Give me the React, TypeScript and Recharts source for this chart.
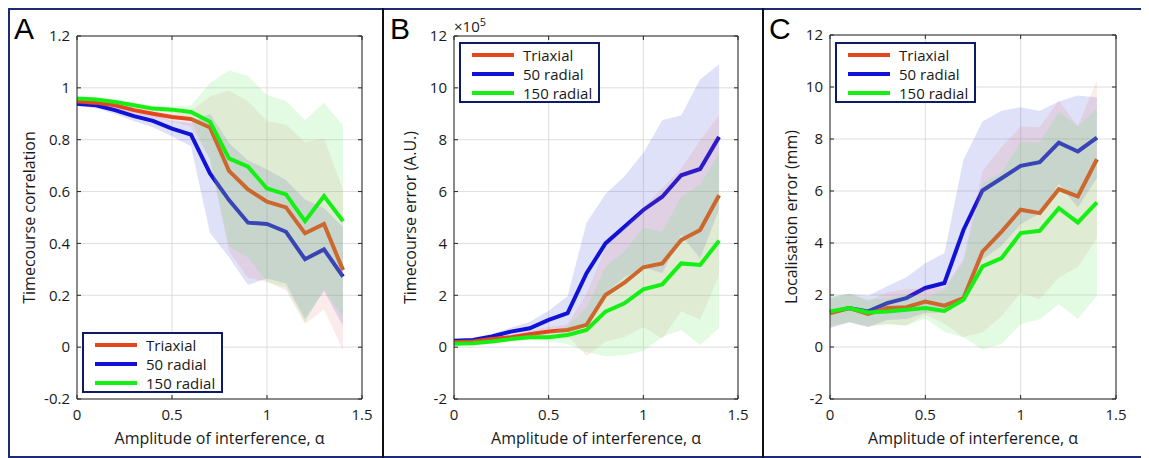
import React from "react";
import {
  ComposedChart,
  Area,
  XAxis,
  YAxis,
  CartesianGrid,
  ReferenceLine,
  Label,
} from "recharts";

// amplitude of interference (x)
const alpha = [0, 0.1, 0.2, 0.3, 0.4, 0.5, 0.6, 0.7, 0.8, 0.9, 1.0, 1.1, 1.2, 1.3, 1.4];

// A - timecourse correlation (mean / std)
const corrTri = [0.948, 0.943, 0.933, 0.914, 0.9, 0.888, 0.88, 0.847, 0.68, 0.608, 0.561, 0.539, 0.439, 0.475, 0.297];
const corrTriSd = [0.01, 0.01, 0.012, 0.015, 0.015, 0.018, 0.03, 0.12, 0.31, 0.34, 0.31, 0.32, 0.35, 0.33, 0.31];
const corr50 = [0.939, 0.933, 0.914, 0.891, 0.873, 0.843, 0.82, 0.67, 0.567, 0.48, 0.475, 0.445, 0.339, 0.377, 0.272];
const corr50Sd = [0.01, 0.012, 0.015, 0.02, 0.025, 0.03, 0.045, 0.23, 0.22, 0.24, 0.21, 0.2, 0.23, 0.16, 0.19];
const corr150 = [0.959, 0.955, 0.946, 0.933, 0.92, 0.916, 0.907, 0.869, 0.728, 0.696, 0.612, 0.589, 0.486, 0.583, 0.486];
const corr150Sd = [0.008, 0.008, 0.01, 0.01, 0.01, 0.012, 0.025, 0.15, 0.34, 0.35, 0.36, 0.36, 0.39, 0.36, 0.37];

// B - timecourse error, x10^5
const errTri = [0.19, 0.22, 0.31, 0.38, 0.5, 0.6, 0.66, 0.86, 2.01, 2.49, 3.08, 3.23, 4.13, 4.52, 5.86];
const errTriSd = [0.03, 0.04, 0.06, 0.08, 0.12, 0.18, 0.22, 1.2, 1.8, 2.1, 2.3, 2.9, 2.75, 3.45, 3.08];
const err50 = [0.25, 0.28, 0.41, 0.6, 0.73, 1.05, 1.31, 2.85, 4.0, 4.64, 5.29, 5.8, 6.63, 6.87, 8.11];
const err50Sd = [0.05, 0.07, 0.1, 0.15, 0.25, 0.35, 0.65, 1.95, 1.9, 1.95, 2.2, 2.95, 2.3, 3.45, 2.8];
const err150 = [0.13, 0.15, 0.22, 0.31, 0.38, 0.38, 0.47, 0.66, 1.37, 1.69, 2.23, 2.42, 3.23, 3.17, 4.1];
const err150Sd = [0.03, 0.04, 0.05, 0.07, 0.1, 0.15, 0.35, 0.85, 1.72, 2.0, 2.38, 2.03, 2.57, 3.09, 3.36];

// C - localisation error (mm)
const locTri = [1.3, 1.5, 1.27, 1.5, 1.53, 1.75, 1.59, 1.88, 3.67, 4.44, 5.28, 5.15, 6.07, 5.79, 7.22];
const locTriSd = [0.55, 0.55, 0.5, 0.6, 0.7, 0.5, 0.7, 1.5, 3.1, 3.25, 3.2, 3.3, 3.4, 2.7, 3.03];
const loc50 = [1.33, 1.5, 1.37, 1.69, 1.88, 2.27, 2.46, 4.5, 6.02, 6.49, 6.97, 7.11, 7.86, 7.52, 8.05];
const loc50Sd = [0.6, 0.55, 0.6, 0.65, 0.8, 0.95, 1.15, 2.7, 2.65, 2.6, 2.25, 1.97, 1.58, 2.15, 1.55];
const loc150 = [1.37, 1.5, 1.33, 1.37, 1.43, 1.5, 1.39, 1.82, 3.1, 3.42, 4.38, 4.47, 5.34, 4.79, 5.56];
const loc150Sd = [0.55, 0.55, 0.5, 0.5, 0.6, 0.4, 0.8, 1.45, 3.2, 3.3, 3.5, 3.4, 3.7, 3.7, 3.6];

const seriesNames = ["Triaxial", "50 radial", "150 radial"];
const xTicks = [0, 0.5, 1, 1.5];
const corrTicks = [-0.2, 0, 0.2, 0.4, 0.6, 0.8, 1, 1.2];
const errTicks = [-2, 0, 2, 4, 6, 8, 10, 12];

const FONT = "'Open Sans', sans-serif";
const TRI = "#e4461e";
const R50 = "#1212d6";
const R150 = "#14f014";
const AXIS = "#262626";
const TICK_LEN = 4;

function makeRows(tri: number[], triSd: number[], r50: number[], r50Sd: number[], r150: number[], r150Sd: number[]) {
  return alpha.map((x, i) => ({
    x,
    tri: tri[i],
    triBand: [tri[i] - triSd[i], tri[i] + triSd[i]],
    r50: r50[i],
    r50Band: [r50[i] - r50Sd[i], r50[i] + r50Sd[i]],
    r150: r150[i],
    r150Band: [r150[i] - r150Sd[i], r150[i] + r150Sd[i]],
  }));
}

function Panel({
  data,
  left,
  width,
  plotLeft,
  plotRight,
  top,
  yTicks,
  yTitle,
  titleX,
}: any) {
  const yMin = yTicks[0];
  const yMax = yTicks[yTicks.length - 1];
  const plotBottom = 391;

  // matlab-style ticks: inward marks on both sides of the box
  const XTick = (p: any) => (
    <g>
      <line x1={p.x} x2={p.x} y1={plotBottom} y2={plotBottom - TICK_LEN} stroke={AXIS} />
      <line x1={p.x} x2={p.x} y1={top} y2={top + TICK_LEN} stroke={AXIS} />
      <text x={p.x} y={p.y} dy="0.71em" textAnchor="middle" fill="#1a1a1a" fontSize={15} fontFamily={FONT}>
        {p.payload.value}
      </text>
    </g>
  );
  const YTick = (p: any) => (
    <g>
      <line x1={plotLeft} x2={plotLeft + TICK_LEN} y1={p.y} y2={p.y} stroke={AXIS} />
      <line x1={plotRight} x2={plotRight - TICK_LEN} y1={p.y} y2={p.y} stroke={AXIS} />
      <text x={p.x} y={p.y} dy="0.355em" textAnchor="end" fill="#1a1a1a" fontSize={15} fontFamily={FONT}>
        {p.payload.value}
      </text>
    </g>
  );

  // mean lines are drawn as unfilled Areas so they keep draw order with the bands
  // (later translucent bands wash over earlier lines, like the original figure)
  return (
    <div style={{ position: "absolute", left, top: 0 }}>
      <ComposedChart
        width={width}
        height={448}
        data={data}
        margin={{ top, right: width - plotRight, left: 0, bottom: 7 }}
      >
        <CartesianGrid stroke="#dedede" strokeWidth={1} />
        <XAxis
          dataKey="x"
          type="number"
          domain={[0, 1.5]}
          ticks={xTicks}
          height={448 - plotBottom - 7}
          tickLine={false}
          tickSize={6}
          tickMargin={4}
          axisLine={{ stroke: AXIS }}
          tick={XTick}
        >
          <Label
            content={({ viewBox }: any) => (
              <text
                x={viewBox.x + viewBox.width / 2}
                y={viewBox.y + 45}
                textAnchor="middle"
                fontSize={16}
                fontFamily={FONT}
                fill="#1a1a1a"
              >
                Amplitude of interference, α
              </text>
            )}
          />
        </XAxis>
        <YAxis
          type="number"
          domain={[yMin, yMax]}
          ticks={yTicks}
          width={plotLeft}
          tickLine={false}
          tickSize={5}
          tickMargin={2}
          axisLine={{ stroke: AXIS }}
          tick={YTick}
        >
          <Label
            content={({ viewBox }: any) => {
              const cy = viewBox.y + viewBox.height / 2;
              return (
                <text
                  x={titleX}
                  y={cy}
                  transform={`rotate(-90, ${titleX}, ${cy})`}
                  textAnchor="middle"
                  dominantBaseline="central"
                  fontSize={16}
                  fontFamily={FONT}
                  fill="#1a1a1a"
                >
                  {yTitle}
                </text>
              );
            }}
          />
        </YAxis>

        <Area type="linear" dataKey="r50Band" stroke="none" fill="#3c4bcd" fillOpacity={0.17} isAnimationActive={false} />
        <Area type="linear" dataKey="r50" stroke={R50} strokeWidth={4} fill="none" isAnimationActive={false} />
        <Area type="linear" dataKey="triBand" stroke="none" fill="#e66464" fillOpacity={0.13} isAnimationActive={false} />
        <Area type="linear" dataKey="tri" stroke={TRI} strokeWidth={4} fill="none" isAnimationActive={false} />
        <Area type="linear" dataKey="r150Band" stroke="none" fill="#6eeb6e" fillOpacity={0.2} isAnimationActive={false} />
        <Area type="linear" dataKey="r150" stroke={R150} strokeWidth={4} fill="none" isAnimationActive={false} />

        <ReferenceLine y={yMax} stroke={AXIS} />
        <ReferenceLine x={1.5} stroke={AXIS} />
      </ComposedChart>
    </div>
  );
}

function LegendBox({ left, top }: { left: number; top: number }) {
  const colors = [TRI, R50, R150];
  return (
    <div
      style={{
        position: "absolute",
        left,
        top,
        width: 141,
        height: 61,
        border: "2px solid #0d1a68",
        background: "#fff",
        boxSizing: "border-box",
        fontFamily: FONT,
        fontSize: 15,
        color: "#1a1a1a",
      }}
    >
      {seriesNames.map((name, i) => (
        <div
          key={name}
          style={{
            position: "absolute",
            left: 11,
            top: 1 + i * 19,
            height: 19,
            display: "flex",
            alignItems: "center",
            whiteSpace: "nowrap",
          }}
        >
          <div style={{ width: 42, height: 4, background: colors[i] }} />
          <span style={{ marginLeft: 9 }}>{name}</span>
        </div>
      ))}
    </div>
  );
}

const letterStyle: React.CSSProperties = {
  position: "absolute",
  top: 4,
  fontFamily: "'Liberation Sans', Arial, sans-serif",
  fontSize: 30,
  color: "#000",
  lineHeight: "34px",
};

export default function App() {
  const dataA = makeRows(corrTri, corrTriSd, corr50, corr50Sd, corr150, corr150Sd);
  const dataB = makeRows(errTri, errTriSd, err50, err50Sd, err150, err150Sd);
  const dataC = makeRows(locTri, locTriSd, loc50, loc50Sd, loc150, loc150Sd);

  return (
    <div style={{ position: "relative", width: 1141, height: 450, background: "#fff" }}>
      <Panel data={dataA} left={0} width={374} plotLeft={69} plotRight={354} top={28} yTicks={corrTicks} yTitle="Timecourse correlation" titleX={21} />
      <Panel data={dataB} left={376} width={378} plotLeft={70} plotRight={354} top={28} yTicks={errTicks} yTitle="Timecourse error (A.U.)" titleX={26} />
      <Panel data={dataC} left={756} width={384} plotLeft={66} plotRight={352} top={27} yTicks={errTicks} yTitle="Localisation error (mm)" titleX={27} />

      <LegendBox left={74} top={324} />
      <LegendBox left={451} top={34} />
      <LegendBox left={827} top={34} />

      <div style={{ ...letterStyle, left: 6 }}>A</div>
      <div style={{ ...letterStyle, left: 382 }}>B</div>
      <div style={{ ...letterStyle, left: 761 }}>C</div>
      <div
        style={{
          position: "absolute",
          left: 446,
          top: 6,
          fontFamily: FONT,
          fontSize: 15,
          color: "#1a1a1a",
        }}
      >
        ×10<sup style={{ fontSize: 11 }}>5</sup>
      </div>

      {/* frame and dividers */}
      <div style={{ position: "absolute", left: 0, top: 0, width: 1141, height: 450, border: "2px solid #1c2a78", boxSizing: "border-box", pointerEvents: "none" }} />
      <div style={{ position: "absolute", left: 374, top: 0, width: 2, height: 450, background: "#111" }} />
      <div style={{ position: "absolute", left: 754, top: 0, width: 2, height: 450, background: "#111" }} />
    </div>
  );
}
